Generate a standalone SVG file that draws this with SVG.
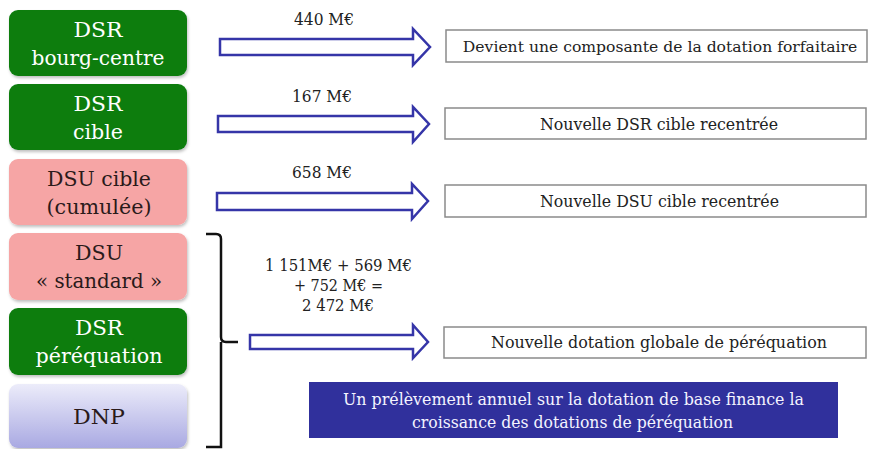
<svg xmlns="http://www.w3.org/2000/svg" width="871" height="449" viewBox="0 0 871 449" font-family="DejaVu Serif, Liberation Serif, serif">
  <defs>
    <linearGradient id="dnpFill" x1="0" y1="0" x2="0" y2="1">
      <stop offset="0" stop-color="#ececfa"/>
      <stop offset="1" stop-color="#a9a9e2"/>
    </linearGradient>
    <filter id="soft" x="-5%" y="-10%" width="110%" height="125%">
      <feDropShadow dx="1" dy="2" stdDeviation="1.5" flood-color="#000" flood-opacity="0.25"/>
    </filter>
    <style>
      .green { fill: #0b7d10; filter: url(#soft); }
      .pink { fill: #f6a5a5; filter: url(#soft); }
      .dnp { fill: url(#dnpFill); filter: url(#soft); }
      .nodeTxtW { fill: #ffffff; font-size: 21px; text-anchor: middle; }
      .nodeTxtD { fill: #2a1a1a; font-size: 21px; text-anchor: middle; }
      .outBox { fill: #ffffff; stroke: #8a8a8a; stroke-width: 1.5; }
      .outTxt { fill: #222222; font-size: 17px; text-anchor: middle; }
      .outTxtLong { fill: #222222; font-size: 15.6px; text-anchor: middle; }
      .amount { fill: #222222; font-size: 16px; text-anchor: middle; }
      .arrow { fill: #ffffff; stroke: #3535a8; stroke-width: 2.5; stroke-linejoin: miter; }
      .brace { fill: none; stroke: #111111; stroke-width: 2.5; }
      .noteBox { fill: #30309c; }
      .noteTxt { fill: #f4f4ff; font-size: 17px; text-anchor: middle; }
    </style>
  </defs>

  <rect width="871" height="449" fill="#ffffff"/>

  <!-- left column: dotation nodes -->
  <g id="dsr-bourg-centre">
    <rect class="green" x="9" y="10" width="178" height="66" rx="9"/>
    <text class="nodeTxtW" x="98" y="37" textLength="49" lengthAdjust="spacingAndGlyphs">DSR</text>
    <text class="nodeTxtW" x="98" y="65" textLength="133" lengthAdjust="spacingAndGlyphs">bourg-centre</text>
  </g>
  <g id="dsr-cible">
    <rect class="green" x="9" y="84" width="178" height="66" rx="9"/>
    <text class="nodeTxtW" x="98" y="111" textLength="49" lengthAdjust="spacingAndGlyphs">DSR</text>
    <text class="nodeTxtW" x="98" y="139" textLength="50" lengthAdjust="spacingAndGlyphs">cible</text>
  </g>
  <g id="dsu-cible">
    <rect class="pink" x="9" y="159" width="178" height="66" rx="9"/>
    <text class="nodeTxtD" x="99" y="186" textLength="104" lengthAdjust="spacingAndGlyphs">DSU cible</text>
    <text class="nodeTxtD" x="99" y="214" textLength="105" lengthAdjust="spacingAndGlyphs">(cumulée)</text>
  </g>
  <g id="dsu-standard">
    <rect class="pink" x="9" y="233" width="178" height="67" rx="9"/>
    <text class="nodeTxtD" x="99" y="260" textLength="48" lengthAdjust="spacingAndGlyphs">DSU</text>
    <text class="nodeTxtD" x="99" y="288" textLength="126" lengthAdjust="spacingAndGlyphs">« standard »</text>
  </g>
  <g id="dsr-perequation">
    <rect class="green" x="9" y="308" width="178" height="67" rx="9"/>
    <text class="nodeTxtW" x="99" y="335" textLength="48" lengthAdjust="spacingAndGlyphs">DSR</text>
    <text class="nodeTxtW" x="99" y="363" textLength="127" lengthAdjust="spacingAndGlyphs">péréquation</text>
  </g>
  <g id="dnp">
    <rect class="dnp" x="9" y="384" width="178" height="64" rx="9"/>
    <text class="nodeTxtD" x="99" y="424" fill="#1c1c30" textLength="52" lengthAdjust="spacingAndGlyphs">DNP</text>
  </g>

  <!-- right column: outcomes -->
  <g id="out-forfaitaire">
    <rect class="outBox" x="446" y="30" width="421" height="32"/>
    <text class="outTxtLong" x="660" y="51.5">Devient une composante de la dotation forfaitaire</text>
  </g>
  <g id="out-dsr-cible">
    <rect class="outBox" x="445" y="108" width="421" height="31"/>
    <text class="outTxt" x="659" y="130" textLength="238" lengthAdjust="spacingAndGlyphs">Nouvelle DSR cible recentrée</text>
  </g>
  <g id="out-dsu-cible">
    <rect class="outBox" x="445" y="185" width="421" height="32"/>
    <text class="outTxt" x="659.5" y="207" textLength="239" lengthAdjust="spacingAndGlyphs">Nouvelle DSU cible recentrée</text>
  </g>
  <g id="out-perequation">
    <rect class="outBox" x="444" y="327" width="422" height="31"/>
    <text class="outTxt" x="659" y="348" textLength="336" lengthAdjust="spacingAndGlyphs">Nouvelle dotation globale de péréquation</text>
  </g>
  <g id="note">
    <rect class="noteBox" x="309" y="382" width="529" height="56"/>
    <text class="noteTxt" x="573.5" y="405" textLength="461" lengthAdjust="spacingAndGlyphs">Un prélèvement annuel sur la dotation de base finance la</text>
    <text class="noteTxt" x="572.5" y="428" textLength="321" lengthAdjust="spacingAndGlyphs">croissance des dotations de péréquation</text>
  </g>

  <!-- connectors: block arrows, amounts and the grouping brace -->
  <g id="connectors">
    <path class="arrow" d="M220,39 H413 V29 L430,47 L413,65 V55 H220 Z"/>
    <text class="amount" x="324" y="25" textLength="60" lengthAdjust="spacingAndGlyphs">440 M€</text>

    <path class="arrow" d="M218,116 H413 V107 L429,124 L413,142 V132 H218 Z"/>
    <text class="amount" x="322" y="102" textLength="60" lengthAdjust="spacingAndGlyphs">167 M€</text>

    <path class="arrow" d="M217,193 H412 V184 L428,201 L412,219 V210 H217 Z"/>
    <text class="amount" x="322" y="178" textLength="60" lengthAdjust="spacingAndGlyphs">658 M€</text>

    <path class="arrow" d="M250,335 H413 V325 L428,342 L413,358 V349 H250 Z"/>
    <text class="amount" x="338.5" y="271" textLength="147" lengthAdjust="spacingAndGlyphs">1 151M€ + 569 M€</text>
    <text class="amount" x="338.5" y="291" textLength="89" lengthAdjust="spacingAndGlyphs">+ 752 M€ =</text>
    <text class="amount" x="338" y="311" textLength="72" lengthAdjust="spacingAndGlyphs">2 472 M€</text>

    <path class="brace" d="M206,234 H216 Q221,234 221,239 V337 Q221,342 226,342 H238 M221,342 V447 H206"/>
  </g>
</svg>
